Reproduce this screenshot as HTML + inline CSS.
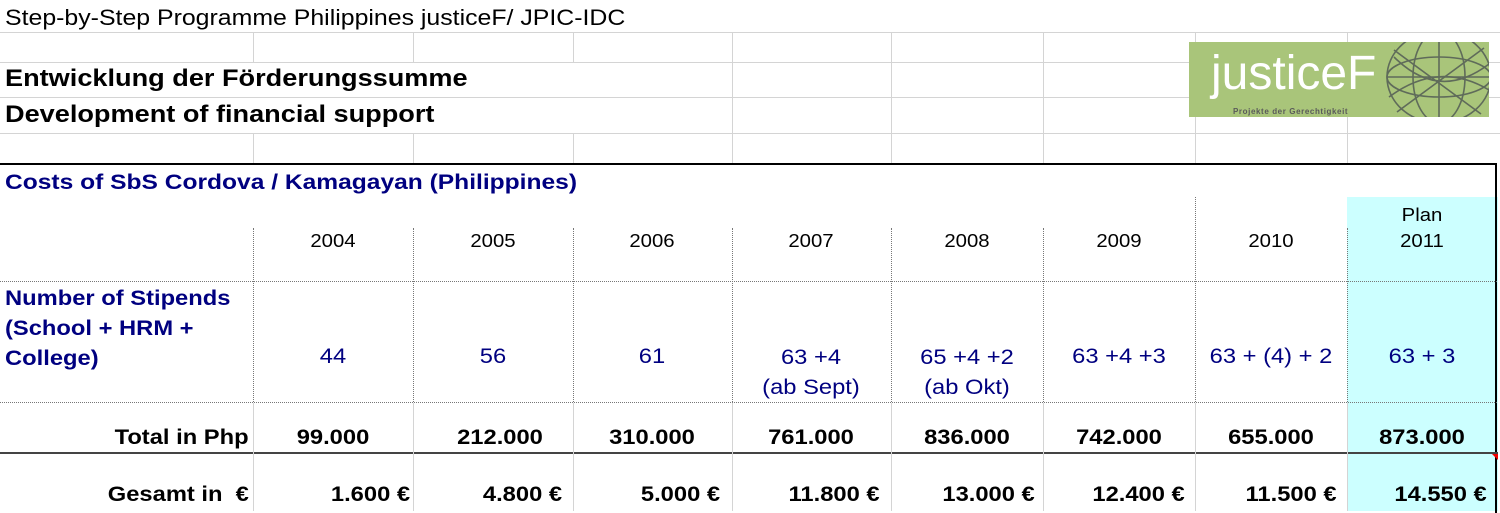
<!DOCTYPE html>
<html><head><meta charset="utf-8"><style>
body{margin:0;width:1500px;height:511px;background:#fff;position:relative;overflow:hidden;font-family:"Liberation Sans",Arial,sans-serif}
.a{position:absolute}
.h{position:absolute;left:0;width:1500px;height:1px;background:#d4d4d4}
.v{position:absolute;width:1px;background:#d4d4d4}
.dv{position:absolute;width:0;border-left:1px dotted #777}
.dh{position:absolute;height:0;border-top:1px dotted #777}
.t{position:absolute;white-space:nowrap;transform:scaleX(1.13);transform-origin:0 0}
.r{position:absolute;white-space:nowrap;transform:scaleX(1.13);transform-origin:100% 0}
.c{position:absolute;width:150px;text-align:center;white-space:nowrap;transform:scaleX(1.13)}
.navy{color:#000080}
</style></head><body>
<div class="h" style="top:32px"></div>
<div class="h" style="top:62px"></div>
<div class="h" style="top:97px"></div>
<div class="h" style="top:133px"></div>
<div class="v" style="left:253px;top:32px;height:30px"></div>
<div class="v" style="left:413px;top:32px;height:30px"></div>
<div class="v" style="left:253px;top:133px;height:31px"></div>
<div class="v" style="left:413px;top:133px;height:31px"></div>
<div class="v" style="left:573px;top:32px;height:30px"></div>
<div class="v" style="left:573px;top:133px;height:31px"></div>
<div class="v" style="left:732px;top:32px;height:132px"></div>
<div class="v" style="left:891px;top:32px;height:132px"></div>
<div class="v" style="left:1043px;top:32px;height:132px"></div>
<div class="v" style="left:1195px;top:32px;height:132px"></div>
<div class="v" style="left:1347px;top:32px;height:132px"></div>

<div class="t" style="left:5px;top:5px;font-size:22px">Step-by-Step Programme Philippines justiceF/ JPIC-IDC</div>
<div class="t" style="left:5px;top:65px;font-size:24px;font-weight:bold">Entwicklung der Förderungssumme</div>
<div class="t" style="left:5px;top:101px;font-size:24px;font-weight:bold">Development of financial support</div>

<div class="a" style="left:1189px;top:42px;width:300px;height:75px;background:#a9c57a;overflow:hidden">
<svg width="300" height="75" style="position:absolute;left:0;top:0">
<g fill="none" stroke="#5f6b5a" stroke-width="1.6">
<ellipse cx="250" cy="35" rx="52" ry="46"/>
<ellipse cx="250" cy="35" rx="26" ry="46"/>
<ellipse cx="250" cy="35" rx="52" ry="20"/>
<line x1="198" y1="35" x2="302" y2="35"/>
<line x1="250" y1="-11" x2="250" y2="81"/>
<path d="M205 8 L292 72 M295 6 L208 70 M200 55 Q250 18 300 48 M205 15 Q250 60 300 22"/>
</g></svg>
<div class="a" style="left:22px;top:4px;font-size:48px;line-height:56px;color:#fff;white-space:nowrap">justiceF</div>
<div class="a" style="left:44px;top:65px;font-size:8px;font-weight:bold;color:#5a5a5a;white-space:nowrap;letter-spacing:0.6px">Projekte der Gerechtigkeit</div>
</div>

<div class="a" style="left:1347px;top:197px;width:151px;height:314px;background:#ccffff"></div>
<div class="a" style="left:0;top:163px;width:1497px;height:350px;border-top:2px solid #000;border-right:2px solid #000;box-sizing:border-box"></div>
<div class="a" style="left:0;top:452px;width:1498px;height:2px;background:#444"></div>

<div class="dh" style="left:0;top:281px;width:1497px"></div>
<div class="dh" style="left:0;top:402px;width:1497px"></div>
<div class="dv" style="left:253px;top:228px;height:174px"></div>
<div class="dv" style="left:413px;top:228px;height:174px"></div>
<div class="dv" style="left:573px;top:228px;height:174px"></div>
<div class="dv" style="left:732px;top:228px;height:174px"></div>
<div class="dv" style="left:891px;top:228px;height:174px"></div>
<div class="dv" style="left:1043px;top:228px;height:174px"></div>
<div class="dv" style="left:1195px;top:197px;height:205px"></div>
<div class="dv" style="left:1347px;top:228px;height:174px"></div>
<div class="v" style="left:253px;top:403px;height:108px"></div>
<div class="v" style="left:413px;top:403px;height:108px"></div>
<div class="v" style="left:573px;top:403px;height:108px"></div>
<div class="v" style="left:732px;top:403px;height:108px"></div>
<div class="v" style="left:891px;top:403px;height:108px"></div>
<div class="v" style="left:1043px;top:403px;height:108px"></div>
<div class="v" style="left:1195px;top:403px;height:108px"></div>
<div class="v" style="left:1347px;top:403px;height:108px"></div>

<div class="t navy" style="left:5px;top:171px;font-size:21px;font-weight:bold;transform:scaleX(1.17)">Costs of SbS Cordova / Kamagayan (Philippines)</div>
<div class="c" style="left:1347px;top:205px;font-size:18px">Plan</div>

<div class="c" style="left:258px;top:231px;font-size:18px">2004</div>
<div class="c" style="left:418px;top:231px;font-size:18px">2005</div>
<div class="c" style="left:577px;top:231px;font-size:18px">2006</div>
<div class="c" style="left:736px;top:231px;font-size:18px">2007</div>
<div class="c" style="left:892px;top:231px;font-size:18px">2008</div>
<div class="c" style="left:1044px;top:231px;font-size:18px">2009</div>
<div class="c" style="left:1196px;top:231px;font-size:18px">2010</div>
<div class="c" style="left:1347px;top:231px;font-size:18px">2011</div>

<div class="t navy" style="left:5px;top:284px;font-size:21px;font-weight:bold;line-height:30px">Number of Stipends<br>(School + HRM +<br>College)</div>
<div class="c navy" style="left:258px;top:345px;font-size:21px">44</div>
<div class="c navy" style="left:418px;top:345px;font-size:21px">56</div>
<div class="c navy" style="left:577px;top:345px;font-size:21px">61</div>
<div class="c navy" style="left:736px;top:343px;font-size:21px;line-height:30px">63 +4<br>(ab Sept)</div>
<div class="c navy" style="left:892px;top:343px;font-size:21px;line-height:30px">65 +4 +2<br>(ab Okt)</div>
<div class="c navy" style="left:1044px;top:345px;font-size:21px">63 +4 +3</div>
<div class="c navy" style="left:1196px;top:345px;font-size:21px">63 + (4) + 2</div>
<div class="c navy" style="left:1347px;top:345px;font-size:21px">63 + 3</div>

<div class="r" style="right:1251px;top:426px;font-size:21px;font-weight:bold">Total in Php</div>
<div class="c" style="left:258px;top:426px;font-size:21px;font-weight:bold">99.000</div>
<div class="c" style="left:425px;top:426px;font-size:21px;font-weight:bold">212.000</div>
<div class="c" style="left:577px;top:426px;font-size:21px;font-weight:bold">310.000</div>
<div class="c" style="left:736px;top:426px;font-size:21px;font-weight:bold">761.000</div>
<div class="c" style="left:892px;top:426px;font-size:21px;font-weight:bold">836.000</div>
<div class="c" style="left:1044px;top:426px;font-size:21px;font-weight:bold">742.000</div>
<div class="c" style="left:1196px;top:426px;font-size:21px;font-weight:bold">655.000</div>
<div class="c" style="left:1347px;top:426px;font-size:21px;font-weight:bold">873.000</div>

<div class="r" style="right:1251px;top:483px;font-size:21px;font-weight:bold">Gesamt in &nbsp;€</div>
<div class="r" style="right:1090px;top:483px;font-size:21px;font-weight:bold">1.600 €</div>
<div class="r" style="right:938px;top:483px;font-size:21px;font-weight:bold">4.800 €</div>
<div class="r" style="right:780px;top:483px;font-size:21px;font-weight:bold">5.000 €</div>
<div class="r" style="right:620px;top:483px;font-size:21px;font-weight:bold">11.800 €</div>
<div class="r" style="right:465px;top:483px;font-size:21px;font-weight:bold">13.000 €</div>
<div class="r" style="right:315px;top:483px;font-size:21px;font-weight:bold">12.400 €</div>
<div class="r" style="right:163px;top:483px;font-size:21px;font-weight:bold">11.500 €</div>
<div class="r" style="right:13px;top:483px;font-size:21px;font-weight:bold">14.550 €</div>
<div class="a" style="left:1492px;top:454px;width:0;height:0;border-left:6px solid transparent;border-top:6px solid #e00"></div>
</body></html>
